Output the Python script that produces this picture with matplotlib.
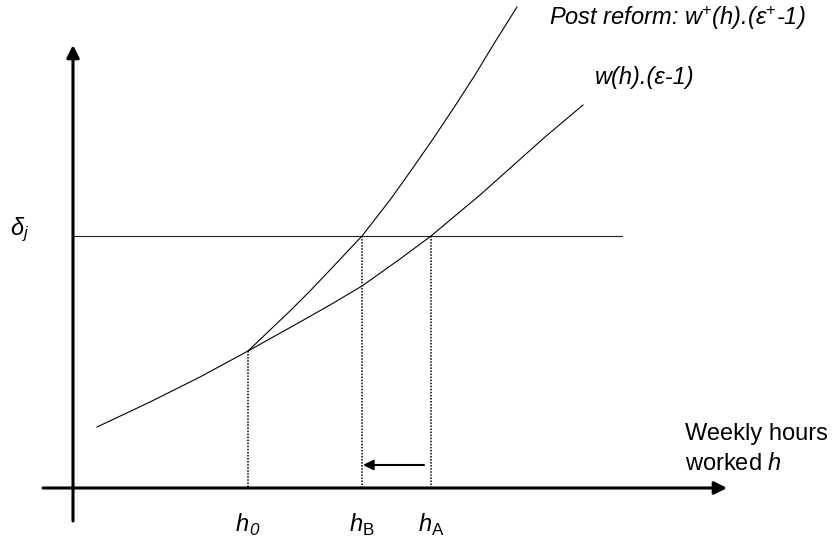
import matplotlib
matplotlib.use('Agg')
from matplotlib import pyplot as plt

plt.rcParams['font.family'] = ['Liberation Sans', 'DejaVu Sans']
plt.rcParams['mathtext.fontset'] = 'custom'
plt.rcParams['mathtext.rm'] = 'Liberation Sans'
plt.rcParams['mathtext.it'] = 'Liberation Sans:italic'
plt.rcParams['mathtext.bf'] = 'Liberation Sans:bold'

# schematic values (pixel units, y grows downward)
h0 = 248
hB = 362
hA = 431
delta_j = 236
x_axis_y = 488
y_axis_x = 73

# w(h).(eps-1)
pre_h = [97, 150, 200, 248, 300, 330, 362, 400, 431, 480, 545, 583]
pre_v = [427, 402, 377, 351, 322, 305, 286, 259, 236, 195, 137, 105]

# post reform w+(h).(eps+-1)
post_h = [248, 270, 290, 310, 330, 362, 390, 410, 433, 455, 475, 495, 517]
post_v = [351, 330, 311, 291, 270, 236, 200, 172, 139, 106, 75, 42, 7]

sub_names = ['0', 'B', 'A']
sub_styles = ['italic', 'normal', 'normal']
tick_pos = [h0, hB, hA]

fig = plt.figure(figsize=(8.32, 5.42), dpi=100)
ax = fig.add_axes([0, 0, 1, 1])
ax.set_xlim(0, 832)
ax.set_ylim(542, 0)
ax.axis('off')

# axes with arrow heads
ax.annotate('', xy=(y_axis_x, 45), xytext=(y_axis_x, 521),
            arrowprops=dict(arrowstyle='-|>,head_length=0.75,head_width=0.38',
                            lw=2.2, color='black', mutation_scale=10,
                            shrinkA=0, shrinkB=0))
ax.annotate('', xy=(727, x_axis_y), xytext=(43, x_axis_y),
            arrowprops=dict(arrowstyle='-|>,head_length=0.75,head_width=0.38',
                            lw=2.2, color='black', mutation_scale=10,
                            shrinkA=0, shrinkB=0))

# delta_j level
ax.plot([y_axis_x, 622], [delta_j, delta_j], color='#222222', lw=0.8)

# curves
ax.plot(pre_h, pre_v, color='black', lw=0.8)
ax.plot(post_h, post_v, color='black', lw=0.8)

# dotted drop lines
ax.plot([h0, h0], [pre_v[3], x_axis_y], color='black', lw=1.1, ls=(0, (1, 1)))
ax.plot([hB, hB], [delta_j, x_axis_y], color='black', lw=1.1, ls=(0, (1, 1)))
ax.plot([hA, hA], [delta_j, x_axis_y], color='black', lw=1.1, ls=(0, (1, 1)))

# shift from hA to hB
ax.annotate('', xy=(hB + 1, 465), xytext=(hA - 7, 465),
            arrowprops=dict(arrowstyle='-|>,head_length=0.6,head_width=0.3',
                            lw=1.5, color='black', mutation_scale=10,
                            shrinkA=0, shrinkB=0))

fs = 17
for sub, st, pos in zip(sub_names, sub_styles, tick_pos):
    ax.text(pos - 12, 531, 'h', fontsize=fs, style='italic', va='baseline', ha='left')
    ax.text(pos + 1, 535, sub, fontsize=fs * 0.72, style=st, va='baseline', ha='left')

ax.text(10, 235, 'δ$_{j}$', fontsize=fs, style='italic', va='baseline', ha='left')
ax.text(549, 25, 'Post reform: w$^{+}$(h).(ε$^{+}$-1)', fontsize=fs, style='italic',
        va='baseline', ha='left')
ax.text(595, 84, 'w(h).(ε-1)', fontsize=fs, style='italic', va='baseline', ha='left')
ax.text(685, 440, 'Weekly hours', fontsize=fs, va='baseline', ha='left')
ax.text(685, 470, 'worked $h$', fontsize=fs, va='baseline', ha='left')

fig.savefig('out.png', dpi=100)
